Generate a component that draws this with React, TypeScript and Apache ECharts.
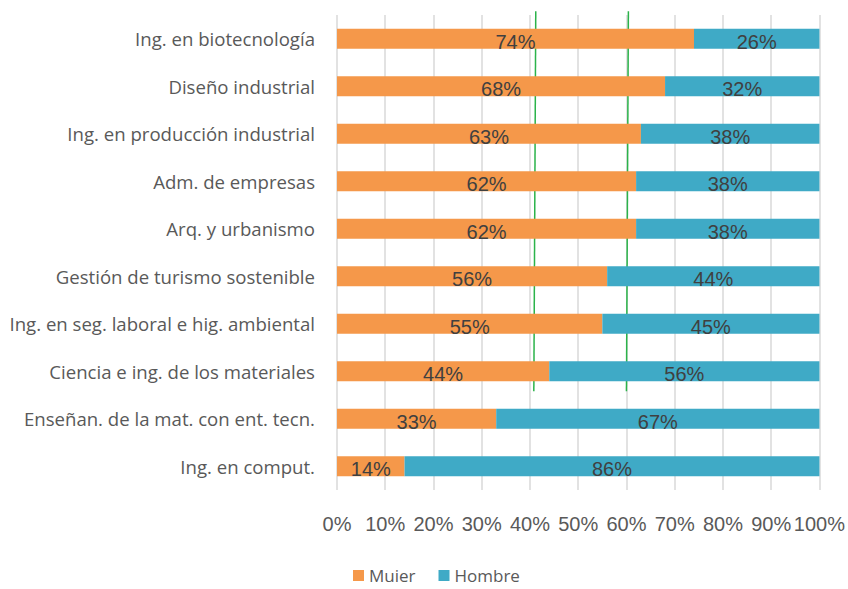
import React, { useEffect, useRef } from "react";
import * as echarts from "echarts";

const categories = [
  "Ing. en biotecnología",
  "Diseño industrial",
  "Ing. en producción industrial",
  "Adm. de empresas",
  "Arq. y urbanismo",
  "Gestión de turismo sostenible",
  "Ing. en seg. laboral e hig. ambiental",
  "Ciencia e ing. de los materiales",
  "Enseñan. de la mat. con ent. tecn.",
  "Ing. en comput.",
];
const mujer = [74, 68, 63, 62, 62, 56, 55, 44, 33, 14];
const hombre = [26, 32, 38, 38, 38, 44, 45, 56, 67, 86];
const seriesNames = ["Muier", "Hombre"];
// reference lines: [x at top, top category index, x at bottom, bottom category index]
const refLines = [
  [41.2, 0, 40.8, 7],
  [60.4, 0, 60.0, 7],
];

export default function App() {
  const ref = useRef<HTMLDivElement>(null);
  useEffect(() => {
    if (!ref.current) return;
    const chart = echarts.init(ref.current, undefined, { renderer: "svg" });
    const labelStyle = {
      show: true,
      position: "inside",
      formatter: "{c}%",
      fontSize: 20,
      fontFamily: "Liberation Sans, Arial, sans-serif",
      color: "#404040",
      offset: [0, 3],
    };
    chart.setOption({
      animation: false,
      grid: { left: 337, right: 22, top: 15, bottom: 99, containLabel: false },
      legend: {
        bottom: 0,
        left: 348,
        icon: "rect",
        itemWidth: 11,
        itemHeight: 11,
        itemGap: 23,
        textStyle: { fontSize: 17, fontFamily: "Open Sans, sans-serif", color: "#595959" },
        data: seriesNames,
      },
      xAxis: {
        type: "value",
        min: 0,
        max: 100,
        interval: 10,
        axisLabel: {
          formatter: "{value}%",
          fontSize: 20,
          fontFamily: "Liberation Sans, Arial, sans-serif",
          color: "#595959",
          margin: 24,
        },
        axisLine: { show: false },
        axisTick: { show: false },
        splitLine: { show: true, lineStyle: { color: "#d9d9d9", width: 1.5 } },
      },
      yAxis: {
        type: "category",
        inverse: true,
        data: categories,
        axisLine: { show: false },
        axisTick: { show: false },
        axisLabel: {
          fontSize: 18.6,
          fontFamily: "Open Sans, sans-serif",
          color: "#595959",
          margin: 22,
        },
      },
      series: [
        {
          name: seriesNames[0],
          type: "bar",
          stack: "total",
          barWidth: "42%",
          data: mujer,
          itemStyle: { color: "#F5984A" },
          label: labelStyle,
        },
        {
          name: seriesNames[1],
          type: "bar",
          stack: "total",
          barWidth: "42%",
          data: hombre,
          itemStyle: { color: "#3FAAC6" },
          label: labelStyle,
        },
        {
          name: "ref",
          type: "custom",
          silent: true,
          clip: false,
          encode: { x: [0, 2], y: [1, 3] },
          data: refLines,
          renderItem: (params: any, api: any) => {
            const band = api.size([0, 1])[1];
            const p1 = api.coord([api.value(0), api.value(1)]);
            const p2 = api.coord([api.value(2), api.value(3)]);
            return {
              type: "line",
              shape: {
                x1: p1[0],
                y1: p1[1] - band * 0.58,
                x2: p2[0],
                y2: p2[1] + band * 0.42,
              },
              style: { stroke: "#2BB34A", lineWidth: 1.5 },
            };
          },
        },
      ],
    });
    return () => chart.dispose();
  }, []);
  return (
    <div
      ref={ref}
      style={{ position: "fixed", left: 0, top: 0, width: 848, height: 589, background: "#fff" }}
    />
  );
}
